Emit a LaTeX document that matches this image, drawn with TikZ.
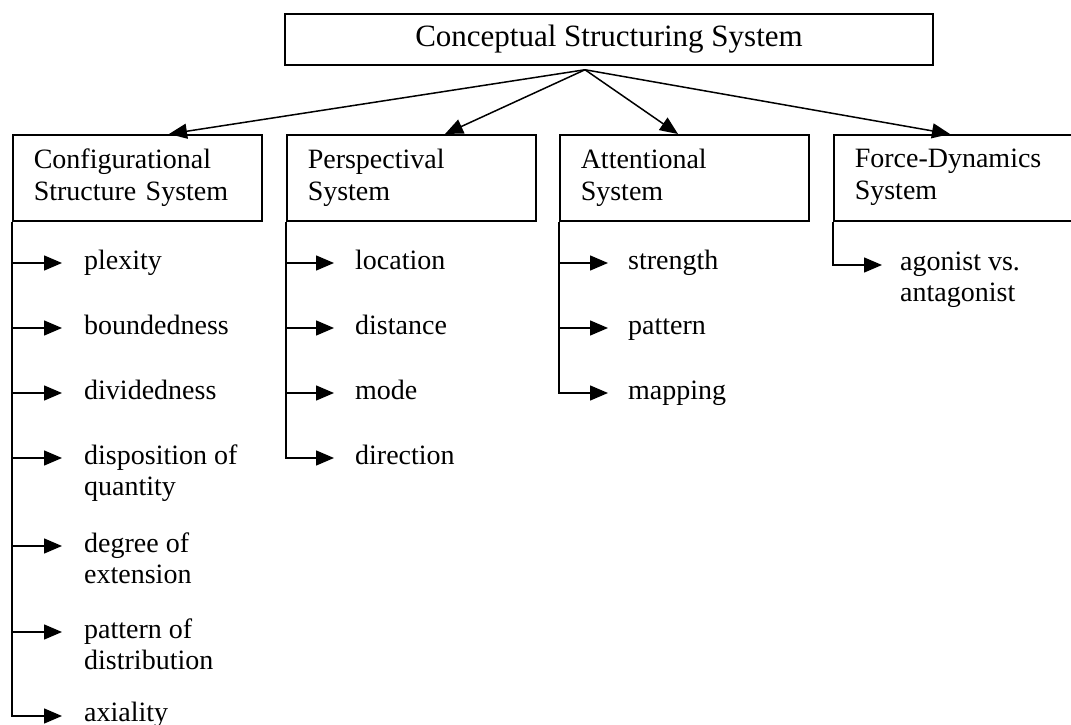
\documentclass[tikz,border=0pt]{standalone}
\usepackage{fontspec}
\setmainfont{Liberation Serif}
\usetikzlibrary{arrows.meta,calc}
\newcommand{\twol}[2]{\vtop{\hbox{#1}\hbox{#2}}}
\begin{document}
\begin{tikzpicture}[x=1pt,y=-1pt,
  lw/.style={line width=1.5pt},
  arr/.style={lw,-{Triangle[length=18pt,width=15pt]}},
  topbox/.style={draw,lw,minimum width=648pt,minimum height=51pt,inner sep=0pt,
    font=\fontsize{31}{36}\selectfont},
  sysbox/.style={draw,lw,anchor=north west,minimum width=249pt,minimum height=86pt,
    inner xsep=21pt,inner ysep=0pt,text width=207pt,align=left,
    font=\fontsize{28}{32}\selectfont},
  item/.style={anchor=base west,inner sep=0pt,font=\fontsize{28}{31}\selectfont}
]
\useasboundingbox (0,0) rectangle (1071,725);
\clip (0,0) rectangle (1071,725);

% top
\node[topbox] (top) at (609,39.5) {Conceptual Structuring System};
\coordinate (o) at ($(top.south)+(-24,4)$);

% system boxes
\node[sysbox] (c1) at (12,134) {Configurational\\Structure System};
\node[sysbox] (c2) at (286,134) {Perspectival\\System};
\node[sysbox] (c3) at (559,134) {Attentional\\System};
\node[sysbox] (c4) at (833,134) {Force-Dynamics\\System};

\draw[arr] (o) -- ($(c1.north west)+(157,0)$);
\draw[arr] (o) -- ($(c2.north west)+(159,0)$);
\draw[arr] (o) -- ($(c3.north west)+(119,0)$);
\draw[arr] (o) -- ($(c4.north west)+(117,0)$);

% Configurational items
\foreach \n/\y in {1/263,2/328,3/393,4/458,5/546,6/632,7/716}
  \coordinate (a\n) at (62,\y);
\draw[arr] (c1.south west) |- (a7);
\foreach \n in {1,...,6}
  \draw[arr] (c1.south west |- a\n) -- (a\n);
\node[item] (t1) at ($(a1)+(22,6)$) {plexity};
\node[item] (t2) at ($(a2)+(22,6)$) {boundedness};
\node[item] (t3) at ($(a3)+(22,6)$) {dividedness};
\node[item] (t4) at ($(a4)+(22,6)$) {\twol{disposition of}{quantity}};
\node[item] (t5) at ($(a5)+(22,6)$) {\twol{degree of}{extension}};
\node[item] (t6) at ($(a6)+(22,6)$) {\twol{pattern of}{distribution}};
\node[item] (t7) at ($(a7)+(22,5)$) {axiality};

% Perspectival items
\foreach \n/\y in {1/263,2/328,3/393,4/458}
  \coordinate (b\n) at (334,\y);
\draw[arr] (c2.south west) |- (b4);
\foreach \n in {1,...,3}
  \draw[arr] (c2.south west |- b\n) -- (b\n);
\node[item] (u1) at ($(b1)+(21,6)$) {location};
\node[item] (u2) at ($(b2)+(21,6)$) {distance};
\node[item] (u3) at ($(b3)+(21,6)$) {mode};
\node[item] (u4) at ($(b4)+(21,6)$) {direction};

% Attentional items
\foreach \n/\y in {1/263,2/328,3/393}
  \coordinate (d\n) at (608,\y);
\draw[arr] (c3.south west) |- (d3);
\foreach \n in {1,2}
  \draw[arr] (c3.south west |- d\n) -- (d\n);
\node[item] (v1) at ($(d1)+(20,6)$) {strength};
\node[item] (v2) at ($(d2)+(20,6)$) {pattern};
\node[item] (v3) at ($(d3)+(20,6)$) {mapping};

% Force-Dynamics items
\coordinate (f1) at (882,265);
\draw[arr] (c4.south west) |- (f1);
\node[item] (w1) at ($(f1)+(18,5)$) {\twol{agonist vs.}{antagonist}};
\end{tikzpicture}
\end{document}
